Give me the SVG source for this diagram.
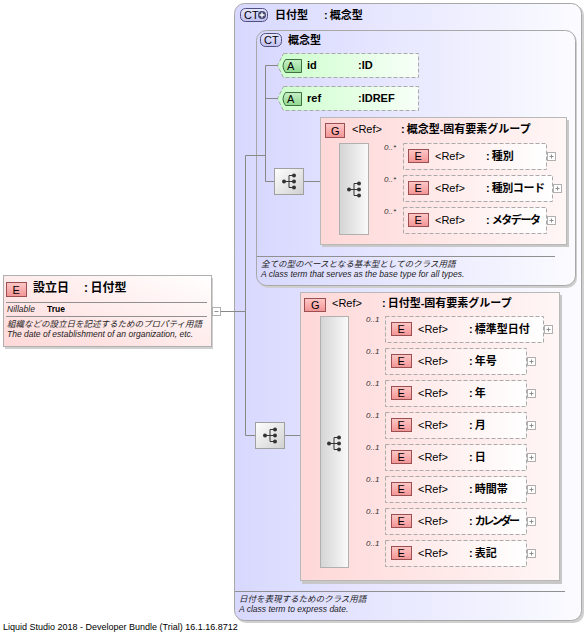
<svg xmlns="http://www.w3.org/2000/svg" width="588" height="632" viewBox="0 0 588 632">
<defs>
<linearGradient id="ctG" x1="0" y1="0" x2="1" y2="0"><stop offset="0" stop-color="#d8d8ff"/><stop offset="1" stop-color="#fbfbff"/></linearGradient>
<linearGradient id="grpG" x1="0" y1="0" x2="1" y2="0"><stop offset="0" stop-color="#ffd8d8"/><stop offset="1" stop-color="#fff6f6"/></linearGradient>
<linearGradient id="elG" x1="0" y1="0" x2="1" y2="0"><stop offset="0" stop-color="#ffe4e4"/><stop offset="1" stop-color="#ffffff"/></linearGradient>
<linearGradient id="rootG" x1="0" y1="1" x2="1" y2="0"><stop offset="0" stop-color="#ffd8d8"/><stop offset="1" stop-color="#ffffff"/></linearGradient>
<linearGradient id="atG" x1="0" y1="0" x2="1" y2="0"><stop offset="0" stop-color="#ccffcc"/><stop offset="1" stop-color="#f8fff8"/></linearGradient>
<linearGradient id="eBadge" x1="0" y1="0" x2="0" y2="1"><stop offset="0" stop-color="#ffc8c8"/><stop offset="1" stop-color="#f29494"/></linearGradient>
<linearGradient id="aBadge" x1="0" y1="0" x2="0" y2="1"><stop offset="0" stop-color="#c8f0c8"/><stop offset="1" stop-color="#90d890"/></linearGradient>
<linearGradient id="ctBadge" x1="0" y1="0" x2="0" y2="1"><stop offset="0" stop-color="#e8e8ff"/><stop offset="1" stop-color="#c0c0f0"/></linearGradient>
<linearGradient id="barG" x1="0" y1="0" x2="1" y2="0"><stop offset="0" stop-color="#d4d4d4"/><stop offset="1" stop-color="#fafafa"/></linearGradient>
<linearGradient id="compG" x1="0" y1="0" x2="1" y2="1"><stop offset="0" stop-color="#ffffff"/><stop offset="1" stop-color="#d0d0d0"/></linearGradient>
<g id="seqIcon">
<circle cx="-6" cy="0" r="2"/>
<path d="M-6,0 H-1 M-1,-6 V6 M-1,-6 H4 M-1,0 H4 M-1,6 H4" fill="none" stroke="#333" stroke-width="1"/>
<circle cx="4" cy="-6" r="2"/><circle cx="4" cy="0" r="2"/><circle cx="4" cy="6" r="2"/>
</g>
<g id="plus"><rect x="0.5" y="0.5" width="8" height="8" fill="#fff" stroke="#b0b0b0"/><path d="M2.5,4.5 H6.5 M4.5,2.5 V6.5" stroke="#909090"/></g>
</defs>
<style>
.lbl{font-family:"Liberation Sans","Noto Sans CJK JP",sans-serif;font-size:11px;font-weight:bold;fill:#000}
.jp{font-family:"Liberation Sans","Noto Sans CJK JP",sans-serif;font-size:11px;font-weight:bold;fill:#000}
.ref{font-family:"Liberation Sans",sans-serif;font-size:11px;fill:#000}
.desc{font-family:"Liberation Sans","Noto Sans CJK JP",sans-serif;font-size:8.5px;font-style:italic;fill:#222}
.occ{font-family:"Liberation Sans",sans-serif;font-size:8px;font-style:italic;fill:#333}
.badge{font-family:"Liberation Sans",sans-serif;font-size:11px;fill:#000}
.conn{fill:none;stroke:#888;stroke-width:1}
.el{fill:url(#elG);stroke:#aaa;stroke-dasharray:4,2}
.eb{fill:url(#eBadge);stroke:#9a5050}
.shadow{fill:#c8c8c8}
</style>

<!-- outer complex type -->
<g id="ct-hizuke">
<rect x="236" y="5" width="348" height="618" rx="10" fill="#d0d0d0"/>
<rect x="234.5" y="3.5" width="347" height="617" rx="10" fill="url(#ctG)" stroke="#a8a8a8"/>
<rect x="240.5" y="8.5" width="27" height="13" rx="5" fill="url(#ctBadge)" stroke="#505080"/>
<text x="244" y="19" class="badge">CT</text>
<circle cx="262" cy="15" r="4" fill="#4a4a70"/>
<path d="M259.5,15 H264.5 M262,12.5 V17.5" stroke="#fff" stroke-width="1.4"/>
<text x="275" y="19" class="jp">日付型</text>
<text x="324" y="19" class="jp">:<tspan dx="2">概念型</tspan></text>
<line x1="235" y1="591.5" x2="565" y2="591.5" stroke="#909090"/>
<text x="239" y="602" class="desc">日付を表現するためのクラス用語</text>
<text x="239" y="612" class="desc">A class term to express date.</text>
</g>

<!-- inner complex type -->
<g id="ct-gainen">
<rect x="258" y="32" width="319" height="256" rx="10" fill="#cfcfcf"/>
<rect x="256.5" y="30.5" width="319" height="255" rx="10" fill="url(#ctG)" stroke="#a8a8a8"/>
<rect x="260.5" y="33.5" width="21" height="13" rx="5" fill="url(#ctBadge)" stroke="#505080"/>
<text x="264" y="44" class="badge">CT</text>
<text x="288" y="44" class="jp">概念型</text>
<line x1="257" y1="256.5" x2="555" y2="256.5" stroke="#909090"/>
<text x="261" y="267" class="desc">全ての型のベースとなる基本型としてのクラス用語</text>
<text x="261" y="277" class="desc">A class term that serves as the base type for all types.</text>
</g>

<!-- attributes -->
<g id="attr-id">
<path d="M283.5,53.5 H418.5 V77.5 H283.5 L277.5,65.5 Z" fill="url(#atG)" stroke="#aaa" stroke-dasharray="4,2"/>
<path d="M285.5,59.5 H301.5 V72.5 H285.5 Q280.5,66 285.5,59.5 Z" fill="url(#aBadge)" stroke="#407040"/>
<text x="287" y="70" class="badge">A</text>
<text x="307" y="69" class="lbl">id</text>
<text x="358" y="69" class="lbl">:ID</text>
</g>
<g id="attr-ref">
<path d="M283.5,86.5 H418.5 V110.5 H283.5 L277.5,98.5 Z" fill="url(#atG)" stroke="#aaa" stroke-dasharray="4,2"/>
<path d="M285.5,92.5 H301.5 V105.5 H285.5 Q280.5,99 285.5,92.5 Z" fill="url(#aBadge)" stroke="#407040"/>
<text x="287" y="103" class="badge">A</text>
<text x="307" y="102" class="lbl">ref</text>
<text x="358" y="102" class="lbl">:IDREF</text>
</g>

<!-- root element -->
<g id="el-setsuritsubi">
<rect x="5" y="278" width="208" height="71" fill="#d0d0d0"/>
<rect x="3.5" y="275.5" width="208" height="71" fill="url(#rootG)" stroke="#b0b0b0"/>
<rect x="6.5" y="282.5" width="20" height="14" class="eb"/>
<text x="12.5" y="293.5" class="badge">E</text>
<text x="33" y="292" class="jp" style="font-size:12px">設立日</text>
<text x="84" y="292" class="jp" style="font-size:12px">:<tspan dx="2.5">日付型</tspan></text>
<line x1="6" y1="302.5" x2="207" y2="302.5" stroke="#909090"/>
<text x="7" y="312" class="desc" style="font-style:italic;font-size:8.5px">Nillable</text>
<text x="47" y="312" class="lbl" style="font-size:8.5px">True</text>
<line x1="6" y1="316.5" x2="207" y2="316.5" stroke="#909090"/>
<text x="7" y="327" class="desc">組織などの設立日を記述するためのプロパティ用語</text>
<text x="7" y="337" class="desc">The date of establishment of an organization, etc.</text>
<rect x="212.5" y="307.5" width="8" height="8" fill="#fff" stroke="#b0b0b0"/>
<path d="M214.5,311.5 H218.5" stroke="#909090"/>
</g>

<!-- connectors -->
<g id="connectors" class="conn">
<path d="M220.5,311.5 H245.5"/>
<path d="M245.5,155.5 V435.5"/>
<path d="M245.5,155.5 H265.5"/>
<path d="M265.5,65.5 V181.5"/>
<path d="M265.5,65.5 H278"/>
<path d="M265.5,98.5 H278"/>
<path d="M265.5,181.5 H274"/>
<path d="M304,181.5 H320"/>
<path d="M320,189.5 H339"/>
<path d="M369,156.5 H403"/>
<path d="M369,188.5 H403"/>
<path d="M369,220.5 H403"/>
<path d="M245.5,435.5 H255"/>
<path d="M285,435.5 H300"/>
<path d="M300,443.5 H320"/>
<path d="M349,329.5 H385"/>
<path d="M349,361.5 H385"/>
<path d="M349,393.5 H385"/>
<path d="M349,425.5 H385"/>
<path d="M349,457.5 H385"/>
<path d="M349,489.5 H385"/>
<path d="M349,521.5 H385"/>
<path d="M349,553.5 H385"/>
</g>

<!-- sequence compositors -->
<g id="seq-gainen">
<rect x="274.5" y="168.5" width="29" height="26" fill="url(#compG)" stroke="#a0a0a0"/>
<use href="#seqIcon" x="290" y="181.5" fill="#333"/>
</g>
<g id="seq-hizuke">
<rect x="255.5" y="422.5" width="29" height="26" fill="url(#compG)" stroke="#a0a0a0"/>
<use href="#seqIcon" x="271" y="435.5" fill="#333"/>
</g>

<!-- group 1 -->
<g id="grp-gainen">
<rect x="322" y="120" width="247" height="127" class="shadow"/>
<rect x="320.5" y="117.5" width="246" height="127" fill="url(#grpG)" stroke="#b8b8b8"/>
<rect x="325.5" y="123.5" width="19" height="14" class="eb"/>
<text x="331" y="134.5" class="badge">G</text>
<text x="352" y="133" class="ref">&lt;Ref&gt;</text>
<text x="401" y="133" class="jp">:<tspan dx="2">概念型-固有要素グループ</tspan></text>
<rect x="339.5" y="143.5" width="29" height="91" fill="url(#barG)" stroke="#b0b0b0"/>
<use href="#seqIcon" x="355" y="189.5" fill="#333"/>
</g>
<g id="el-shubetsu">
<text x="384" y="150" class="occ">0..*</text>
<rect x="403.5" y="143.5" width="143" height="26" class="el"/>
<rect x="408.5" y="149.5" width="20" height="13" class="eb"/>
<text x="414.5" y="160" class="badge">E</text>
<text x="435" y="160" class="ref">&lt;Ref&gt;</text>
<text x="486" y="160" class="jp">:<tspan dx="2">種別</tspan></text>
<use href="#plus" x="547" y="152"/>
</g>
<g id="el-shubetsucode">
<text x="384" y="182" class="occ">0..*</text>
<rect x="403.5" y="175.5" width="149" height="26" class="el"/>
<rect x="408.5" y="181.5" width="20" height="13" class="eb"/>
<text x="414.5" y="192" class="badge">E</text>
<text x="435" y="192" class="ref">&lt;Ref&gt;</text>
<text x="486" y="192" class="jp">:<tspan dx="2" style="letter-spacing:-0.4px">種別コード</tspan></text>
<use href="#plus" x="553" y="184"/>
</g>
<g id="el-metadata">
<text x="384" y="214" class="occ">0..*</text>
<rect x="403.5" y="207.5" width="143" height="26" class="el"/>
<rect x="408.5" y="213.5" width="20" height="13" class="eb"/>
<text x="414.5" y="224" class="badge">E</text>
<text x="435" y="224" class="ref">&lt;Ref&gt;</text>
<text x="486" y="224" class="jp">:<tspan dx="2" style="letter-spacing:-1.4px">メタデータ</tspan></text>
<use href="#plus" x="547" y="216"/>
</g>

<!-- group 2 -->
<g id="grp-hizuke">
<rect x="302" y="295" width="260" height="289" class="shadow"/>
<rect x="300.5" y="292.5" width="259" height="288" fill="url(#grpG)" stroke="#b8b8b8"/>
<rect x="304.5" y="298.5" width="21" height="13" class="eb"/>
<text x="311" y="309" class="badge">G</text>
<text x="332" y="307" class="ref">&lt;Ref&gt;</text>
<text x="382" y="307" class="jp">:<tspan dx="2">日付型-固有要素グループ</tspan></text>
<rect x="320.5" y="316.5" width="28" height="251" fill="url(#barG)" stroke="#b0b0b0"/>
<use href="#seqIcon" x="335" y="443.5" fill="#333"/>
</g>
<g id="el-hyojun">
<text x="366" y="322" class="occ">0..1</text>
<rect x="385.5" y="316.5" width="158" height="26" class="el"/>
<rect x="391.5" y="322.5" width="20" height="13" class="eb"/>
<text x="397.5" y="333" class="badge">E</text>
<text x="418" y="333" class="ref">&lt;Ref&gt;</text>
<text x="469" y="333" class="jp">:<tspan dx="2">標準型日付</tspan></text>
<use href="#plus" x="544" y="325"/>
</g>
<g id="el-nengo">
<text x="366" y="354" class="occ">0..1</text>
<rect x="385.5" y="348.5" width="141" height="26" class="el"/>
<rect x="391.5" y="354.5" width="20" height="13" class="eb"/>
<text x="397.5" y="365" class="badge">E</text>
<text x="418" y="365" class="ref">&lt;Ref&gt;</text>
<text x="469" y="365" class="jp">:<tspan dx="2">年号</tspan></text>
<use href="#plus" x="527" y="357"/>
</g>
<g id="el-nen">
<text x="366" y="386" class="occ">0..1</text>
<rect x="385.5" y="380.5" width="141" height="26" class="el"/>
<rect x="391.5" y="386.5" width="20" height="13" class="eb"/>
<text x="397.5" y="397" class="badge">E</text>
<text x="418" y="397" class="ref">&lt;Ref&gt;</text>
<text x="469" y="397" class="jp">:<tspan dx="2">年</tspan></text>
<use href="#plus" x="527" y="389"/>
</g>
<g id="el-tsuki">
<text x="366" y="418" class="occ">0..1</text>
<rect x="385.5" y="412.5" width="141" height="26" class="el"/>
<rect x="391.5" y="418.5" width="20" height="13" class="eb"/>
<text x="397.5" y="429" class="badge">E</text>
<text x="418" y="429" class="ref">&lt;Ref&gt;</text>
<text x="469" y="429" class="jp">:<tspan dx="2">月</tspan></text>
<use href="#plus" x="527" y="421"/>
</g>
<g id="el-hi">
<text x="366" y="450" class="occ">0..1</text>
<rect x="385.5" y="444.5" width="141" height="26" class="el"/>
<rect x="391.5" y="450.5" width="20" height="13" class="eb"/>
<text x="397.5" y="461" class="badge">E</text>
<text x="418" y="461" class="ref">&lt;Ref&gt;</text>
<text x="469" y="461" class="jp">:<tspan dx="2">日</tspan></text>
<use href="#plus" x="527" y="453"/>
</g>
<g id="el-jikantai">
<text x="366" y="482" class="occ">0..1</text>
<rect x="385.5" y="476.5" width="141" height="26" class="el"/>
<rect x="391.5" y="482.5" width="20" height="13" class="eb"/>
<text x="397.5" y="493" class="badge">E</text>
<text x="418" y="493" class="ref">&lt;Ref&gt;</text>
<text x="469" y="493" class="jp">:<tspan dx="2">時間帯</tspan></text>
<use href="#plus" x="527" y="485"/>
</g>
<g id="el-calendar">
<text x="366" y="514" class="occ">0..1</text>
<rect x="385.5" y="508.5" width="141" height="26" class="el"/>
<rect x="391.5" y="514.5" width="20" height="13" class="eb"/>
<text x="397.5" y="525" class="badge">E</text>
<text x="418" y="525" class="ref">&lt;Ref&gt;</text>
<text x="469" y="525" class="jp">:<tspan dx="2" style="letter-spacing:-2.4px">カレンダー</tspan></text>
<use href="#plus" x="527" y="517"/>
</g>
<g id="el-hyoki">
<text x="366" y="546" class="occ">0..1</text>
<rect x="385.5" y="540.5" width="141" height="26" class="el"/>
<rect x="391.5" y="546.5" width="20" height="13" class="eb"/>
<text x="397.5" y="557" class="badge">E</text>
<text x="418" y="557" class="ref">&lt;Ref&gt;</text>
<text x="469" y="557" class="jp">:<tspan dx="2">表記</tspan></text>
<use href="#plus" x="527" y="549"/>
</g>

<text x="3" y="630" style="font-family:'Liberation Sans',sans-serif;font-size:9px;fill:#000">Liquid Studio 2018 - Developer Bundle (Trial) 16.1.16.8712</text>
</svg>
